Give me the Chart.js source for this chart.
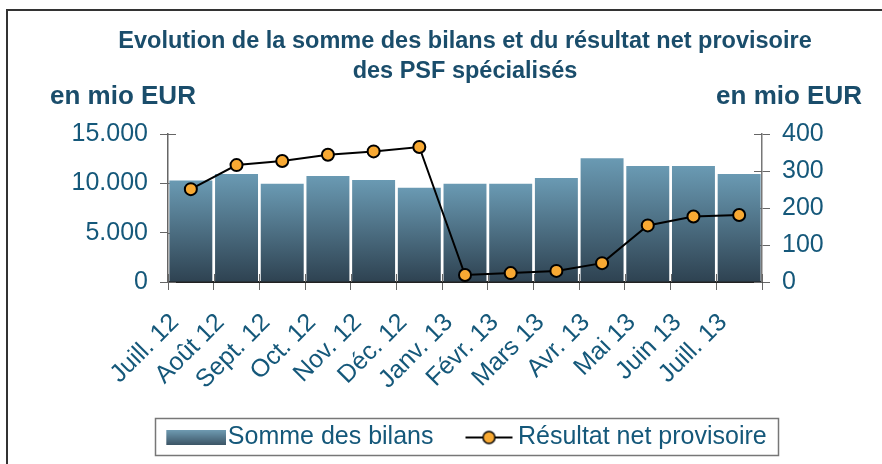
<!DOCTYPE html>
<html>
<head>
<meta charset="utf-8">
<script src="https://cdn.jsdelivr.net/npm/chart.js@4.4.0/dist/chart.umd.min.js"></script>
<style>
  html, body { margin: 0; padding: 0; background: #fff; }
</style>
</head>
<body>
<canvas id="chart" width="882" height="464"></canvas>
<script>
// Months on the x axis
const months = ["Juill. 12", "Août 12", "Sept. 12", "Oct. 12", "Nov. 12", "Déc. 12",
    "Janv. 13", "Févr. 13", "Mars 13", "Avr. 13", "Mai 13", "Juin 13", "Juill. 13"];

// Somme des bilans (left axis, mio EUR)
const bilans = [10300, 10950, 9950, 10750, 10350, 9550, 9950, 9950, 10550, 12550, 11750, 11750, 10950];

// Résultat net provisoire (right axis, mio EUR)
const resultat = [251, 316, 327, 344, 353, 365, 19, 24, 30, 51, 153, 177, 181];

// Axis ranges
const leftMax = 15000, leftStep = 5000;
const rightMax = 400, rightStep = 100;

const labelColor = "#15587a";
const titleColor = "#1a4d6b";
const FONT = "'Liberation Sans', Arial, sans-serif";

// thousands with a dot, like 15.000
function fmt(v) {
    return String(v).replace(/\B(?=(\d{3})+(?!\d))/g, ".");
}

// Gradient for each bar, light on top and dark at the base
function barGradient(ctx) {
    const chart = ctx.chart;
    if (!chart.chartArea || ctx.type !== "data") return "#5a8aa2";
    const y = chart.scales.y;
    const top = y.getPixelForValue(ctx.raw);
    const bottom = y.getPixelForValue(0);
    const g = chart.ctx.createLinearGradient(0, top, 0, bottom);
    g.addColorStop(0, "#6a9ab3");
    g.addColorStop(1, "#2e4251");
    return g;
}

// Legend swatches drawn on small canvases (extra blank room on the left
// so the swatch sits closer to its text)
function makeBarSwatch() {
    const c = document.createElement("canvas");
    c.width = 74; c.height = 15;
    const x = c.getContext("2d");
    const g = x.createLinearGradient(0, 0, 0, 15);
    g.addColorStop(0, "#6f9bb2");
    g.addColorStop(1, "#3c5566");
    x.fillStyle = g;
    x.fillRect(14, 0, 60, 15);
    return c;
}
function makeLineSwatch() {
    const c = document.createElement("canvas");
    c.width = 74; c.height = 16;
    const x = c.getContext("2d");
    x.strokeStyle = "#000";
    x.lineWidth = 2;
    x.beginPath(); x.moveTo(23, 8); x.lineTo(70, 8); x.stroke();
    x.beginPath(); x.arc(46.5, 8, 6, 0, Math.PI * 2);
    x.fillStyle = "#f8a933"; x.fill();
    x.lineWidth = 1.5; x.stroke();
    return c;
}
const barSwatch = makeBarSwatch();
const lineSwatch = makeLineSwatch();

// Frame, axis unit labels, legend border and crossing ticks
const decorations = {
    id: "decorations",
    beforeDatasetsDraw(chart) {
        const ctx = chart.ctx;
        const a = chart.chartArea;
        ctx.save();
        ctx.strokeStyle = "#666";
        ctx.lineWidth = 1;
        // inner halves of the x ticks (category boundaries)
        const step = (a.right - a.left) / months.length;
        for (let i = 0; i <= months.length; i++) {
            const px = Math.round(a.left + i * step) + 0.5;
            ctx.beginPath(); ctx.moveTo(px, a.bottom); ctx.lineTo(px, a.bottom - 8); ctx.stroke();
        }
        // inner halves of the y ticks
        chart.scales.y.ticks.forEach((t, i) => {
            const py = Math.round(chart.scales.y.getPixelForTick(i)) + 0.5;
            ctx.beginPath(); ctx.moveTo(a.left, py); ctx.lineTo(a.left + 8, py); ctx.stroke();
        });
        chart.scales.y1.ticks.forEach((t, i) => {
            const py = Math.round(chart.scales.y1.getPixelForTick(i)) + 0.5;
            ctx.beginPath(); ctx.moveTo(a.right, py); ctx.lineTo(a.right - 8, py); ctx.stroke();
        });
        ctx.restore();
    },
    afterDraw(chart) {
        const ctx = chart.ctx;
        ctx.save();
        // outer frame (cut by the picture edges)
        ctx.strokeStyle = "#333";
        ctx.lineWidth = 2;
        ctx.beginPath();
        ctx.moveTo(7, 470); ctx.lineTo(7, 10); ctx.lineTo(890, 10);
        ctx.stroke();
        // unit labels
        ctx.fillStyle = titleColor;
        ctx.font = "bold 26px " + FONT;
        ctx.textBaseline = "middle";
        ctx.textAlign = "left";
        ctx.fillText("en mio EUR", 50, 97);
        ctx.textAlign = "right";
        ctx.fillText("en mio EUR", 862, 97);
        // legend border
        const boxes = chart.legend.legendHitBoxes;
        if (boxes && boxes.length) {
            const left = Math.min(...boxes.map(b => b.left)) - 8;
            const right = Math.max(...boxes.map(b => b.left + b.width)) + 12;
            const top = boxes[0].top - 7;
            const h = boxes[0].height + 12;
            ctx.strokeStyle = "#777";
            ctx.lineWidth = 1.5;
            ctx.strokeRect(Math.round(left) + 0.5, Math.round(top) + 0.5, Math.round(right - left), Math.round(h));
        }
        ctx.restore();
    }
};

new Chart(document.getElementById("chart"), {
    data: {
        labels: months,
        datasets: [
            {
                type: "bar",
                label: "Somme des bilans",
                data: bilans,
                yAxisID: "y",
                backgroundColor: barGradient,
                borderWidth: 0,
                categoryPercentage: 0.94,
                barPercentage: 1.0,
                order: 2
            },
            {
                type: "line",
                label: "Résultat net provisoire",
                data: resultat,
                yAxisID: "y1",
                borderColor: "#000",
                borderWidth: 2,
                pointRadius: 6,
                pointBackgroundColor: "#f8a933",
                pointBorderColor: "#000",
                pointBorderWidth: 2,
                tension: 0,
                order: 1
            }
        ]
    },
    options: {
        responsive: false,
        animation: false,
        layout: { padding: { left: 48, right: 0, top: 0, bottom: 4 } },
        plugins: {
            title: {
                display: true,
                text: ["Evolution de la somme des bilans et du résultat net provisoire", "des PSF spécialisés"],
                color: titleColor,
                font: { family: FONT, size: 23.5, weight: "bold", lineHeight: 1.277 },
                padding: { top: 27, bottom: 47 }
            },
            legend: {
                position: "bottom",
                labels: {
                    color: labelColor,
                    font: { family: FONT, size: 25 },
                    usePointStyle: true,
                    pointStyleWidth: 52,
                    padding: 20,
                    generateLabels: () => [
                        { text: "Somme des bilans", pointStyle: barSwatch, fillStyle: "#5a8aa2", strokeStyle: "transparent", lineWidth: 0, hidden: false, datasetIndex: 0, fontColor: labelColor },
                        { text: "Résultat net provisoire", pointStyle: lineSwatch, fillStyle: "#f8a933", strokeStyle: "transparent", lineWidth: 0, hidden: false, datasetIndex: 1, fontColor: labelColor }
                    ]
                }
            },
            tooltip: { enabled: false }
        },
        scales: {
            x: {
                offset: true,
                grid: { offset: true, drawOnChartArea: false, drawTicks: true, tickLength: 8, color: "#666" },
                border: { color: "#222", width: 2 },
                ticks: {
                    color: labelColor,
                    font: { family: FONT, size: 25 },
                    autoSkip: false,
                    maxRotation: 45,
                    minRotation: 45,
                    padding: 18,
                    labelOffset: -16
                },
                afterFit: s => { s.height = 123; }
            },
            y: {
                position: "left",
                min: 0,
                max: leftMax,
                grid: { drawOnChartArea: false, tickLength: 8, color: "#666" },
                border: { color: "#666", width: 1.5 },
                ticks: {
                    stepSize: leftStep,
                    color: labelColor,
                    font: { family: FONT, size: 25 },
                    padding: 12,
                    callback: v => fmt(v)
                },
                afterFit: s => { s.width = 120; }
            },
            y1: {
                position: "right",
                min: 0,
                max: rightMax,
                grid: { drawOnChartArea: false, tickLength: 8, color: "#666" },
                border: { color: "#777", width: 1.5 },
                ticks: {
                    stepSize: rightStep,
                    color: labelColor,
                    font: { family: FONT, size: 25 },
                    padding: 12
                },
                afterFit: s => { s.width = 120; }
            }
        }
    },
    plugins: [decorations]
});
</script>
</body>
</html>
